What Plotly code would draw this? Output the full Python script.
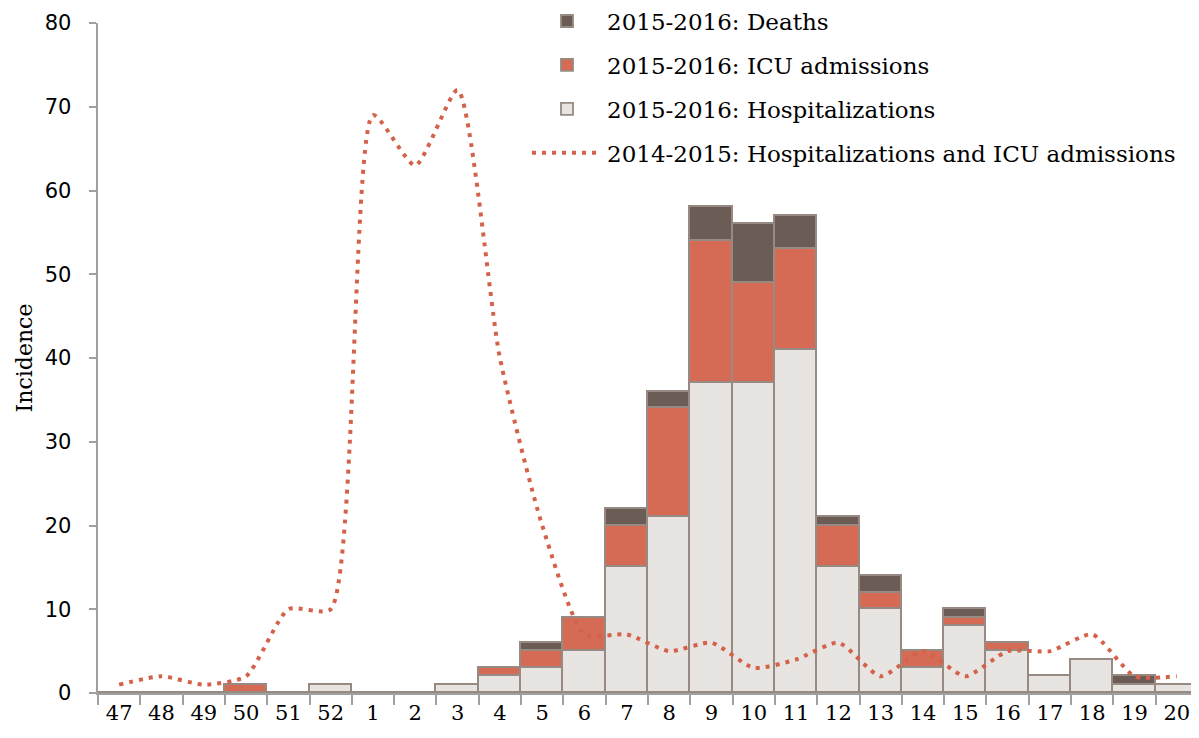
import plotly.graph_objects as go

weeks = ["47", "48", "49", "50", "51", "52", "1", "2", "3", "4", "5", "6", "7",
         "8", "9", "10", "11", "12", "13", "14", "15", "16", "17", "18", "19", "20"]

hosp_1516 = [0, 0, 0, 0, 0, 1, 0, 0, 1, 2, 3, 5, 15, 21, 37, 37, 41, 15, 10, 3, 8, 5, 2, 4, 1, 1]
icu_1516 = [0, 0, 0, 1, 0, 0, 0, 0, 0, 1, 2, 4, 5, 13, 17, 12, 12, 5, 2, 2, 1, 1, 0, 0, 0, 0]
deaths_1516 = [0, 0, 0, 0, 0, 0, 0, 0, 0, 0, 1, 0, 2, 2, 4, 7, 4, 1, 2, 0, 1, 0, 0, 0, 1, 0]
hosp_icu_1415 = [1, 2, 1, 2, 10, 10, 69, 63, 72, 40, 20, 7, 7, 5, 6, 3, 4, 6, 2, 5, 2, 5, 5, 7, 2, 2]

HOSP_COLOR = "#e8e4e1"
ICU_COLOR = "#d66b55"
DEATH_COLOR = "#6b5d55"
EDGE_COLOR = "#968a82"
LINE_COLOR = "#d4624a"

SERIF = "DejaVu Serif"

fig = go.Figure()

bar_specs = [
    ("2015-2016: Hospitalizations", hosp_1516, HOSP_COLOR, 3),
    ("2015-2016: ICU admissions", icu_1516, ICU_COLOR, 2),
    ("2015-2016: Deaths", deaths_1516, DEATH_COLOR, 1),
]
for name, vals, color, rank in bar_specs:
    fig.add_trace(go.Bar(
        x=weeks,
        y=vals,
        name=name,
        legendrank=rank,
        legendgroup=name,
        marker=dict(color=color, line=dict(color=EDGE_COLOR, width=1.8)),
    ))

fig.add_trace(go.Scatter(
    x=weeks,
    y=hosp_icu_1415,
    mode="lines",
    name="2014-2015: Hospitalizations and ICU admissions",
    legendrank=4,
    legendgroup="line",
    line=dict(color=LINE_COLOR, width=4, dash="4px,6px", shape="spline", smoothing=0.6),
))

# page body has an 8px margin, so the figure is a bit smaller than the window
fig.update_layout(
    width=1191,
    height=730,
    barmode="stack",
    bargap=0,
    plot_bgcolor="white",
    paper_bgcolor="white",
    margin=dict(l=90, r=1, t=15, b=45, autoexpand=False),
    font=dict(family=SERIF, size=20, color="black"),
    legend=dict(
        x=0.39, y=1.035, xanchor="left", yanchor="top",
        bgcolor="rgba(0,0,0,0)",
        font=dict(family=SERIF, size=23),
        tracegroupgap=11,
        itemwidth=70,
    ),
    xaxis=dict(
        type="category",
        showline=True, linecolor="#a0a0a0", linewidth=2,
        ticks="outside", tickson="boundaries", ticklen=10, tickcolor="#a0a0a0", tickwidth=2,
        tickfont=dict(family=SERIF, size=21),
        showgrid=False,
    ),
    yaxis=dict(
        range=[0, 80], dtick=10,
        showline=True, linecolor="#a0a0a0", linewidth=2,
        ticks="outside", ticklen=7, tickcolor="#a0a0a0", tickwidth=2,
        ticksuffix="\u00a0\u00a0",
        tickfont=dict(family="DejaVu Sans", size=21),
        showgrid=False, zeroline=False,
        title=dict(text="Incidence", font=dict(family=SERIF, size=22), standoff=6),
    ),
)

fig.write_html("out.html")
